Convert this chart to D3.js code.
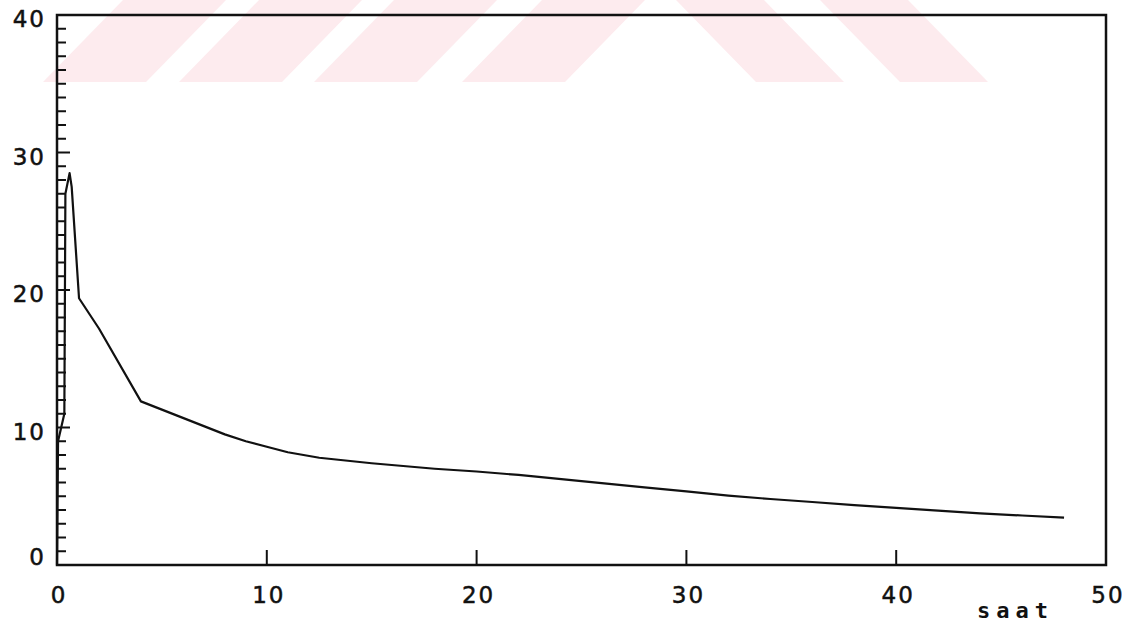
<!DOCTYPE html>
<html>
<head>
<meta charset="utf-8">
<script src="https://cdn.jsdelivr.net/npm/d3@7"></script>
<style>
  html, body { margin: 0; padding: 0; background: #fff; }
  svg { display: block; }
</style>
</head>
<body>
<div id="chart"></div>
<script>
(function(){
  const hours  = [0, 0.05, 0.35, 0.4, 0.6, 0.7, 1.05, 2, 4, 5, 6, 7, 8, 9, 10, 11, 12.5, 15, 18, 20, 22, 25, 28, 30, 32, 34, 36, 38, 40, 42, 44, 46, 48];
  const values = [0, 9, 11, 27, 28.5, 27.5, 19.4, 17.2, 11.9, 11.3, 10.7, 10.1, 9.5, 9.0, 8.6, 8.2, 7.8, 7.4, 7.0, 6.8, 6.55, 6.1, 5.65, 5.35, 5.05, 4.8, 4.58, 4.36, 4.15, 3.95, 3.75, 3.6, 3.45];

  const xTicks = [0, 10, 20, 30, 40, 50];
  const yTicks = [0, 10, 20, 30, 40];
  const xLabel = "saat";

  // watermark stripes: left edge at the band bottom
  const stripeLeft = [43, 179, 314, 462, 756, 900];

  const width = 1142, height = 630;
  const data = hours.map((h, i) => ({h: h, v: values[i]}));

  const svg = d3.select("#chart").append("svg")
      .attr("width", width)
      .attr("height", height);

  // pink watermark band at the top
  const bandH = 82, stripeW = 103, slant = 80;
  svg.append("g").selectAll("path")
      .data(stripeLeft)
      .enter().append("path")
      .attr("fill", "#fdebee")
      .attr("d", (x0, i) => {
        if (i < 4) {
          // "/" stripes
          return `M${x0},${bandH}L${x0 + stripeW},${bandH}L${x0 + stripeW + slant},0L${x0 + slant},0Z`;
        }
        // "\" stripes
        return `M${x0},${bandH}L${x0 + stripeW - 15},${bandH}L${x0 + stripeW - 15 - slant},0L${x0 - slant},0Z`;
      });

  const x = d3.scaleLinear().domain([0, 50]).range([57, 1106]);
  const y = d3.scaleLinear().domain([0, 40]).range([565, 15]);

  // frame
  svg.append("rect")
      .attr("x", x(0)).attr("y", y(40))
      .attr("width", x(50) - x(0)).attr("height", y(0) - y(40))
      .attr("fill", "none")
      .attr("stroke", "#111")
      .attr("stroke-width", 2.5);

  // y ticks: one per unit, longer every 10
  svg.append("g").selectAll("line")
      .data(d3.range(1, 40))
      .enter().append("line")
      .attr("x1", x(0))
      .attr("x2", d => x(0) + (d % 10 === 0 ? 13 : 9))
      .attr("y1", d => y(d)).attr("y2", d => y(d))
      .attr("stroke", "#111")
      .attr("stroke-width", 2);

  // x ticks
  svg.append("g").selectAll("line")
      .data(xTicks.slice(1, -1))
      .enter().append("line")
      .attr("x1", d => x(d)).attr("x2", d => x(d))
      .attr("y1", y(0)).attr("y2", y(0) - 15)
      .attr("stroke", "#111")
      .attr("stroke-width", 2);

  const font = "'DejaVu Sans', sans-serif";

  svg.append("g").selectAll("text")
      .data(yTicks)
      .enter().append("text")
      .attr("x", 46)
      .attr("y", d => Math.min(y(d) + 4, 557))
      .attr("dy", "0.36em")
      .attr("text-anchor", "end")
      .attr("letter-spacing", 2)
      .style("font-family", font)
      .style("font-size", "23px")
      .attr("fill", "#111")
      .attr("stroke", "#111")
      .attr("stroke-width", 0.5)
      .text(d => d);

  svg.append("g").selectAll("text")
      .data(xTicks)
      .enter().append("text")
      .attr("x", d => x(d) + 2)
      .attr("y", 595)
      .attr("dy", "0.36em")
      .attr("text-anchor", "middle")
      .attr("letter-spacing", 2)
      .style("font-family", font)
      .style("font-size", "23px")
      .attr("fill", "#111")
      .attr("stroke", "#111")
      .attr("stroke-width", 0.5)
      .text(d => d);

  svg.append("text")
      .attr("x", 977)
      .attr("y", 618)
      .attr("letter-spacing", 6)
      .style("font-family", "'DejaVu Sans Mono', monospace")
      .style("font-weight", "bold")
      .style("font-size", "22px")
      .attr("fill", "#111")
      .text(xLabel);

  // curve
  const line = d3.line().x(d => x(d.h)).y(d => y(d.v));
  svg.append("path")
      .datum(data)
      .attr("fill", "none")
      .attr("stroke", "#111")
      .attr("stroke-width", 2.2)
      .attr("stroke-linejoin", "round")
      .attr("d", line);
})();
</script>
</body>
</html>
